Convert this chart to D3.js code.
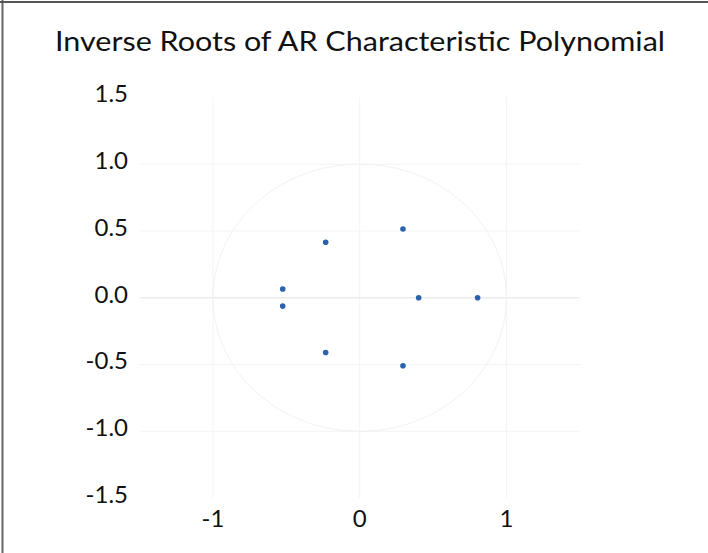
<!DOCTYPE html>
<html><head><meta charset="utf-8">
<script src="https://cdn.jsdelivr.net/npm/d3@7"></script>
<style>body{margin:0;background:#fff}svg{display:block}text{font-family:Lato,"Noto Sans",sans-serif;fill:#111}</style>
</head><body><svg id="c" width="708" height="553"></svg>
<script>
const title = "Inverse Roots of AR Characteristic Polynomial";
const xTicks = [-1, 0, 1];
const yTicks = [1.5, 1.0, 0.5, 0.0, -0.5, -1.0, -1.5];
const rootsRe = [0.295, -0.232, -0.525, -0.525, 0.402, 0.804, -0.232, 0.295];
const rootsIm = [0.515, 0.415, 0.065, -0.063, 0.0, 0.0, -0.410, -0.510];

const svg = d3.select("#c");
const x = d3.scaleLinear().domain([-1.5, 1.5]).range([139.7, 579.7]);
const y = d3.scaleLinear().domain([-1.5, 1.5]).range([498, 97.4]);
const fmtY = d => d.toFixed(1);

// frame
svg.append("line").attr("x1",2.5).attr("x2",2.5).attr("y1",0).attr("y2",553).attr("stroke","#666").attr("stroke-width",2);
svg.append("line").attr("x1",0).attr("x2",708).attr("y1",2).attr("y2",2).attr("stroke","#555").attr("stroke-width",2);

svg.append("text").attr("x",360).attr("y",51).attr("text-anchor","middle")
  .attr("font-size",26).attr("textLength",610).attr("lengthAdjust","spacingAndGlyphs").text(title);

// grid
const g = svg.append("g");
g.selectAll(".hx").data(yTicks.filter(d=>d!==1.5 && d!==-1.5 && d!==0)).enter().append("line")
  .attr("x1",x(-1.5)).attr("x2",x(1.5)).attr("y1",d=>y(d)).attr("y2",d=>y(d))
  .attr("stroke","#f3f3f3").attr("stroke-width",1);
g.selectAll(".vx").data(xTicks).enter().append("line")
  .attr("y1",y(1.5)).attr("y2",y(-1.5)).attr("x1",d=>x(d)).attr("x2",d=>x(d))
  .attr("stroke","#f3f3f3").attr("stroke-width",1);
g.append("line").attr("x1",x(-1.5)).attr("x2",x(1.5)).attr("y1",y(0)).attr("y2",y(0))
  .attr("stroke","#ececec").attr("stroke-width",1.5);

// unit circle
const circ = d3.range(0, 361, 2).map(a => [Math.cos(a*Math.PI/180), Math.sin(a*Math.PI/180)]);
g.append("path").attr("d", d3.line().x(d=>x(d[0])).y(d=>y(d[1]))(circ))
  .attr("fill","none").attr("stroke","#f2f2f2").attr("stroke-width",1);

// axis labels
svg.selectAll(".yl").data(yTicks).enter().append("text")
  .attr("x",128).attr("y",d=>y(d)+5).attr("text-anchor","end").attr("font-size",24)
  .text(fmtY);
svg.selectAll(".xl").data(xTicks).enter().append("text")
  .attr("x",d=>x(d)).attr("y",527).attr("text-anchor","middle").attr("font-size",24)
  .text(d=>String(d));

// points
svg.selectAll(".pt").data(rootsRe.map((r,i)=>[r, rootsIm[i]])).enter().append("circle")
  .attr("cx",d=>x(d[0])).attr("cy",d=>y(d[1])).attr("r",2.8).attr("fill","#2a62ad");
</script></body></html>
